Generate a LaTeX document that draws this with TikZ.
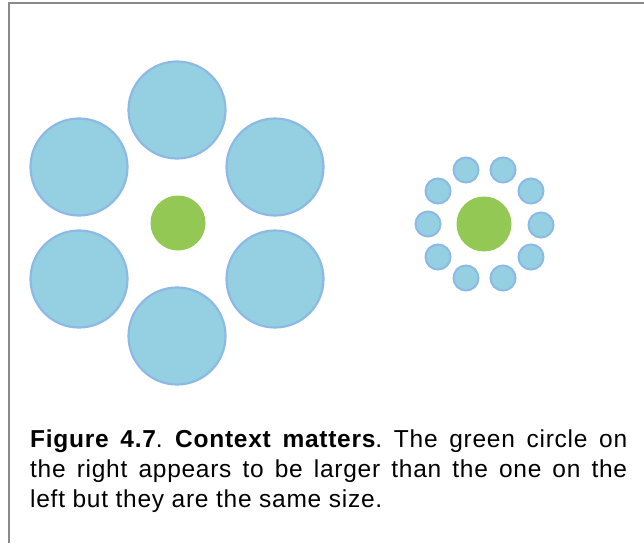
\documentclass[tikz,border=0pt]{standalone}
\usepackage{fontspec}
\setmainfont{Liberation Sans}[LetterSpace=3]
\usepackage{tikz}
\usetikzlibrary{positioning}

\definecolor{ringfill}{RGB}{148,208,226}
\definecolor{ringedge}{RGB}{140,186,228}
\definecolor{coregreen}{RGB}{146,200,83}
\definecolor{framegray}{RGB}{138,138,138}

\begin{document}
\begin{tikzpicture}[x=1pt, y=-1pt,
        bigdisc/.style={circle, draw=ringedge, fill=ringfill, line width=2.2pt, minimum size=97pt, inner sep=0pt},
        smalldisc/.style={circle, draw=ringedge, fill=ringfill, line width=2pt, minimum size=25pt, inner sep=0pt},
        core/.style={circle, fill=coregreen, minimum size=55pt, inner sep=0pt},
        caption/.style={text width=597pt, align=justify, inner sep=0pt, font=\fontsize{24.5}{30}\selectfont\frenchspacing}
    ]
        \useasboundingbox (0,0) rectangle (644,543);
        \draw[framegray, line width=2pt] (644,3) -- (9,3) -- (9,543);

        % left group: big ring
        \node[core] (lcore) at (178,223) {};
        \node[bigdisc] (ltop) at (177,110) {};
        \node[bigdisc] (lur) at (275,167) {};
        \node[bigdisc] (llr) at (275,279) {};
        \node[bigdisc] (lbot) at (177,336) {};
        \node[bigdisc] (lll) at (79,279) {};
        \node[bigdisc] (lul) at (79,167) {};

        % right group: small ring
        \node[core] (rcore) at (484,224) {};
        \node[smalldisc] (r0) at (541,225) {};
        \node[smalldisc] (r1) at (531,191) {};
        \node[smalldisc] (r2) at (503,170) {};
        \node[smalldisc] (r3) at (466,170) {};
        \node[smalldisc] (r4) at (438,191) {};
        \node[smalldisc] (r5) at (428,224) {};
        \node[smalldisc] (r6) at (438,257) {};
        \node[smalldisc] (r7) at (466,278) {};
        \node[smalldisc] (r8) at (503,278) {};
        \node[smalldisc] (r9) at (531,257) {};

        \node[caption, anchor=base west] (cap) at (30,447) {
            \textbf{Figure 4.7}. \textbf{Context matters}. The green circle on\linebreak
            the right appears to be larger than the one on the\linebreak
            left but they are the same size.
        };
    \end{tikzpicture}
\end{document}
